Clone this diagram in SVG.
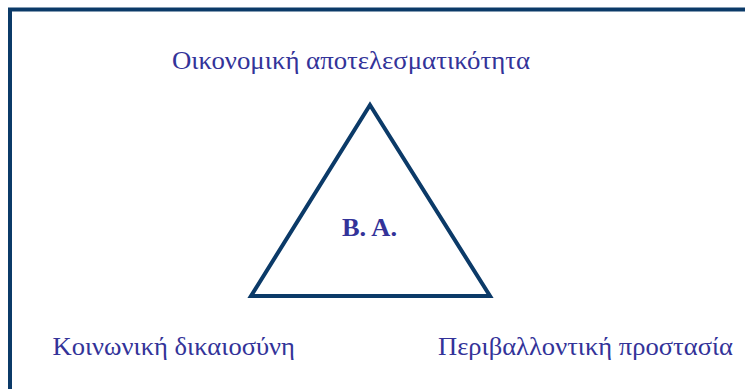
<svg xmlns="http://www.w3.org/2000/svg" width="745" height="389" viewBox="0 0 745 389">
<style>
.lbl{font-family:"Liberation Serif","Times New Roman",serif;font-size:26px;fill:#333399}
.bold{font-weight:bold}
.edge{fill:none;stroke:#0b3a68;stroke-width:4;stroke-linejoin:miter}
</style>
<rect width="745" height="389" fill="#ffffff"/>
<g id="frame">
<path class="edge" d="M10,389 V9.5 H745"/>
</g>
<g id="connectors">
<polygon class="edge" points="370,105 490,296 251,296"/>
</g>
<g id="node-top">
<text class="lbl" x="172" y="69" textLength="358" lengthAdjust="spacingAndGlyphs">Οικονομική αποτελεσματικότητα</text>
</g>
<g id="node-center">
<text class="lbl bold" x="342" y="236" textLength="55" lengthAdjust="spacingAndGlyphs">B. A.</text>
</g>
<g id="node-left">
<text class="lbl" x="52.5" y="355" textLength="242.5" lengthAdjust="spacingAndGlyphs">Κοινωνική δικαιοσύνη</text>
</g>
<g id="node-right">
<text class="lbl" x="438" y="355" textLength="295" lengthAdjust="spacingAndGlyphs">Περιβαλλοντική προστασία</text>
</g>
</svg>
